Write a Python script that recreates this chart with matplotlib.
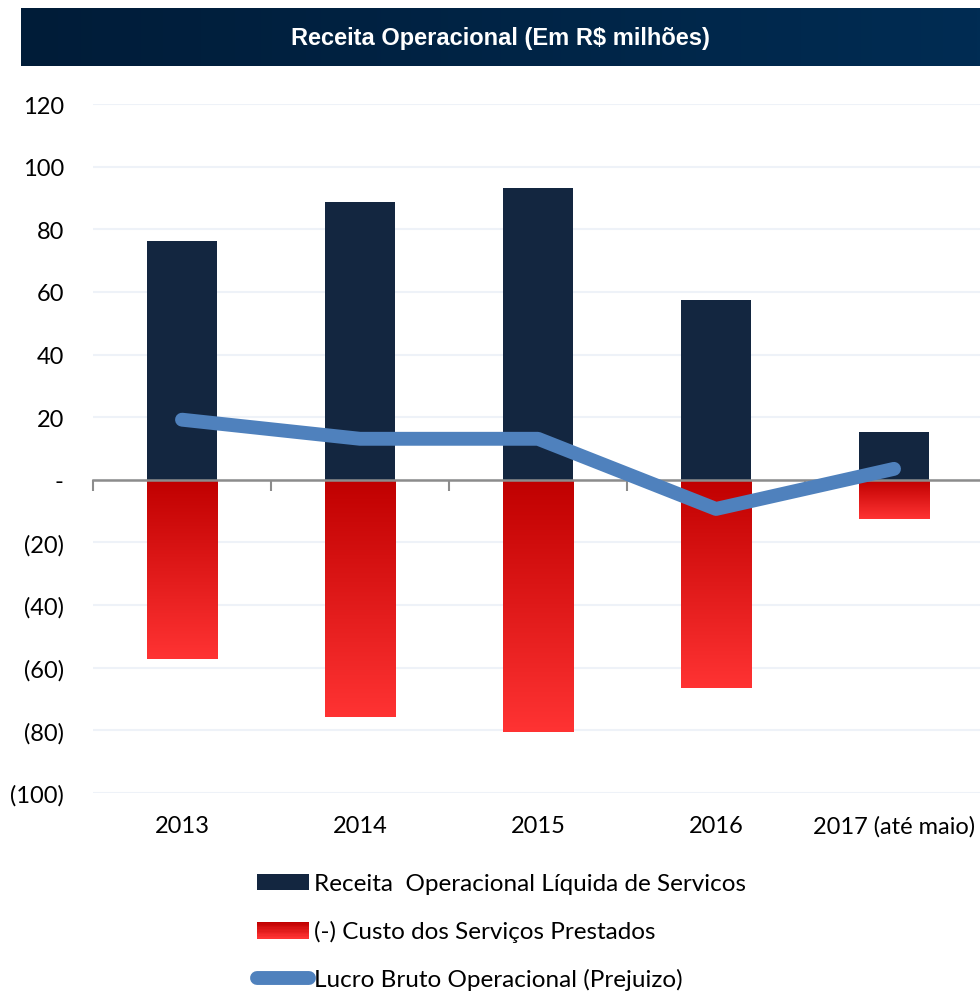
import numpy as np
import matplotlib
matplotlib.use("Agg")
import matplotlib.pyplot as plt
from matplotlib.colors import LinearSegmentedColormap
from matplotlib.patches import Rectangle
from matplotlib.lines import Line2D
from matplotlib.legend_handler import HandlerBase
from matplotlib.ticker import FuncFormatter

categories = ["2013", "2014", "2015", "2016", "2017 (até maio)"]
receita = [76.3, 88.7, 93.2, 57.5, 15.3]
custo = [-57.1, -75.6, -80.4, -66.4, -12.4]
lucro = [19.2, 13.1, 13.1, -9.3, 3.5]
yticks = [120, 100, 80, 60, 40, 20, 0, -20, -40, -60, -80, -100]

title = "Receita Operacional (Em R$ milhões)"
lbl_receita = "Receita  Operacional Líquida de Servicos"
lbl_custo = "(-) Custo dos Serviços Prestados"
lbl_lucro = "Lucro Bruto Operacional (Prejuizo)"

navy = "#132640"
red_cmap = LinearSegmentedColormap.from_list("reds", ["#C00000", "#FF3333"])
line_color = "#4F81BD"
FONT = "Lato"
FS = 17

W, H = 980, 995
fig = plt.figure(figsize=(W / 100, H / 100), dpi=100)

# Title banner
bax = fig.add_axes([21 / W, 1 - 67 / H, (W - 21) / W, 58 / H])
grad = np.linspace(0, 1, 256).reshape(1, -1)
bax.imshow(grad, aspect="auto", extent=[0, 1, 0, 1],
           cmap=LinearSegmentedColormap.from_list("ban", ["#001C38", "#002C53"]))
bax.set_xlim(0, 1); bax.set_ylim(0, 1); bax.axis("off")
bax.text(0.5, 0.5, title, color="white", ha="center", va="center",
         fontsize=17, fontweight="bold", family="Liberation Sans")

# Main axes
ymin, ymax = -100, 120
ax = fig.add_axes([93 / W, 1 - 794 / H, 890 / W, (794 - 105) / H])
x = np.arange(len(categories))
bw = 0.395

bars_r = ax.bar(x, receita, width=bw, color=navy, zorder=2)
bars_c = ax.bar(x, custo, width=bw, color="none", zorder=2)
vgrad = np.linspace(0, 1, 256).reshape(-1, 1)
for p in bars_c:
    x0, y0 = p.get_x(), p.get_y()
    w, h = p.get_width(), p.get_height()
    im = ax.imshow(vgrad, aspect="auto", cmap=red_cmap, origin="upper",
                   extent=[x0, x0 + w, y0 + h, y0], zorder=2)
    im.set_clip_path(p)
ax.set_xlim(-0.5, len(categories) - 0.5)
ax.set_ylim(ymin, ymax)

ax.plot(x, lucro, color=line_color, lw=10, solid_capstyle="round",
        solid_joinstyle="round", zorder=4)

ax.set_yticks(yticks)
def fmt(v, pos):
    if v == 0:
        return "-"
    if v < 0:
        return "(%d)" % abs(v)
    return "%d" % v
ax.yaxis.set_major_formatter(FuncFormatter(fmt))
ax.tick_params(axis="y", length=0, pad=21, labelsize=FS, labelcolor="black")
for t in ax.get_yticklabels():
    t.set_family(FONT)
ax.grid(axis="y", color="#EEF2F8", lw=1.5, zorder=0)
ax.set_axisbelow(True)

ax.set_xticks(x)
ax.set_xticklabels(categories, family=FONT, fontsize=FS)
ax.tick_params(axis="x", length=0, pad=16)
for s in ax.spines.values():
    s.set_visible(False)

# zero axis line with boundary tick marks
loc0 = (0 - ymin) / (ymax - ymin)
sec = ax.secondary_xaxis(loc0)
sec.set_xticks(np.arange(len(categories) + 1) - 0.5)
sec.tick_params(axis="x", direction="out", length=8, width=1.5, color="#8C8C8C",
                labelbottom=False, labeltop=False, bottom=True, top=False)
sec.spines["bottom"].set_color("#8C8C8C")
sec.spines["bottom"].set_linewidth(1.8)
sec.spines["top"].set_visible(False)
sec.set_zorder(3)

# Legend
class GradHandler(HandlerBase):
    def create_artists(self, legend, orig, xd, yd, width, height, fontsize, trans):
        arts = []
        n = 12
        for i in range(n):
            c = red_cmap(i / (n - 1))
            r = Rectangle((xd, yd + height * (1 - (i + 1) / n)), width, height / n + 0.3,
                          facecolor=c, edgecolor="none", transform=trans)
            arts.append(r)
        return arts

class GradProxy:
    pass

h1 = Rectangle((0, 0), 1, 1, facecolor=navy)
h2 = GradProxy()
h3 = Line2D([0], [0], color=line_color, lw=10, solid_capstyle="round")
leg = fig.legend([h1, h2, h3], [lbl_receita, lbl_custo, lbl_lucro],
                 handler_map={GradProxy: GradHandler()},
                 loc="upper left", bbox_to_anchor=(245 / W, 1 - 862 / H),
                 frameon=False, prop={"family": FONT, "size": 17.5},
                 handlelength=2.15, handleheight=0.65, handletextpad=0.2,
                 labelspacing=1.07, borderpad=0)

fig.savefig("out.png", dpi=100)
